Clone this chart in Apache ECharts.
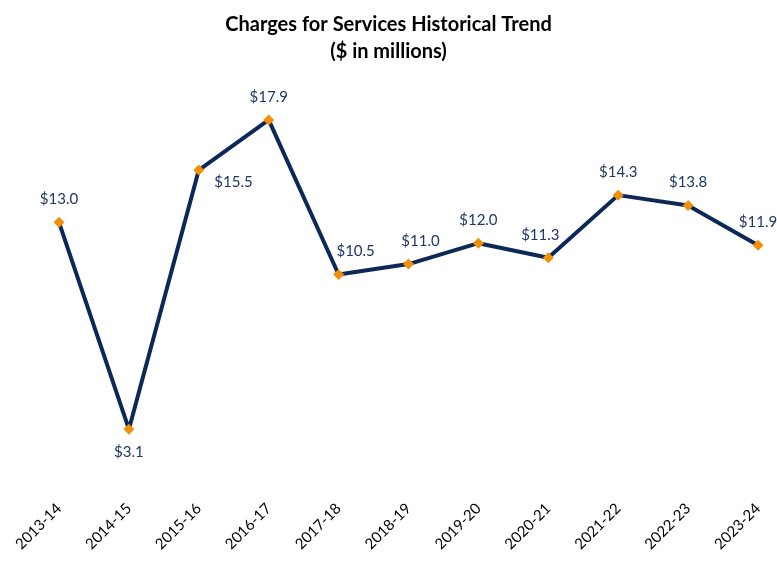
<!DOCTYPE html>
<html>
<head>
<meta charset="utf-8">
<script src="https://cdn.jsdelivr.net/npm/echarts@6/dist/echarts.min.js"></script>
<style>html,body{margin:0;padding:0;background:#fff}#chart{width:777px;height:568px}</style>
</head>
<body>
<div id="chart"></div>
<script>
var years = ['2013-14', '2014-15', '2015-16', '2016-17', '2017-18', '2018-19', '2019-20', '2020-21', '2021-22', '2022-23', '2023-24'];
var charges = [13.0, 3.1, 15.5, 17.9, 10.5, 11.0, 12.0, 11.3, 14.3, 13.8, 11.9];

var myChart = echarts.init(document.getElementById('chart'));

var points = charges.map(function (v, i) {
  var d = { value: v };
  if (i === 1) d.label = { position: 'bottom', distance: 10 };
  if (i === 2) d.label = { position: 'right', offset: [0, 12] };
  if (i === 4) d.label = { offset: [17, 0] };
  if (i === 5) d.label = { offset: [12, 0] };
  if (i === 7) d.label = { offset: [-8, 0] };
  return d;
});

var option = {
  title: {
    text: 'Charges for Services Historical Trend\n($ in millions)',
    left: 'center',
    top: 6,
    textStyle: { fontFamily: 'Lato', fontWeight: 'bold', fontSize: 20, lineHeight: 27, color: '#000' }
  },
  grid: { left: 59, right: 19, top: 76, bottom: 74, containLabel: false },
  xAxis: {
    type: 'category',
    data: years,
    boundaryGap: false,
    axisLine: { show: false },
    axisTick: { show: false },
    axisLabel: { rotate: 45, margin: 12, fontFamily: 'Lato', fontSize: 15, color: '#000' }
  },
  yAxis: {
    type: 'value',
    min: 0,
    max: 20,
    show: false
  },
  series: [{
    type: 'line',
    data: points,
    symbol: 'diamond',
    symbolSize: 11,
    itemStyle: { color: '#f0900a' },
    lineStyle: { color: '#0c2856', width: 4 },
    label: {
      show: true,
      position: 'top',
      distance: 10,
      fontFamily: 'Lato',
      fontSize: 15,
      color: '#1f3864',
      formatter: function (p) { return '$' + p.value.toFixed(1); }
    },
    z: 3
  }]
};

myChart.setOption(option);
</script>
</body>
</html>
